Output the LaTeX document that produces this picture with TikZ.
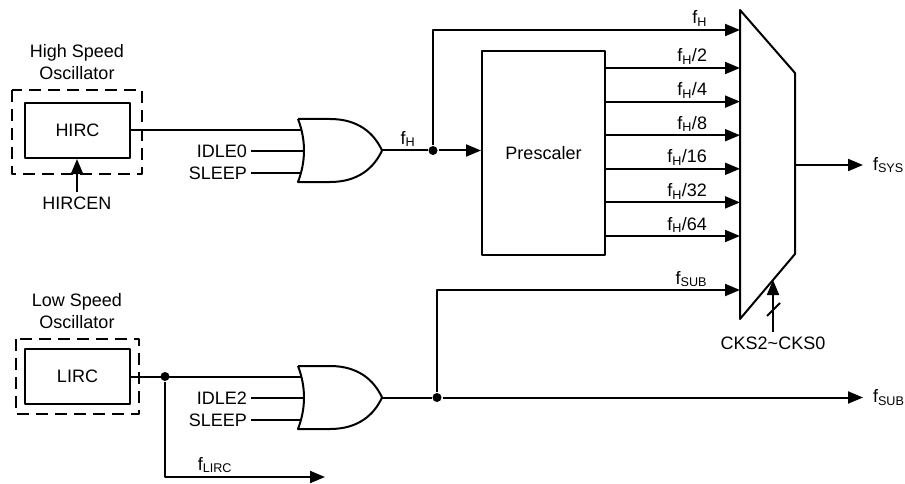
\documentclass[tikz,border=0pt]{standalone}
\usepackage{fontspec}
\setmainfont{Liberation Sans}
\usetikzlibrary{calc,arrows.meta}
\def\orgate(#1)(#2){\begin{scope}[shift={(#2)}]
	\draw (0,0) -- (32,0) .. controls (60,0) and (76,14) .. (84,31.5) .. controls (76,49) and (60,63) .. (32,63) -- (0,63) .. controls (8,42) and (8,21) .. (0,0);
	\coordinate (#1-in1) at (3.7,12);
	\coordinate (#1-in2) at (6,32);
	\coordinate (#1-in3) at (2.9,54);
	\coordinate (#1-out) at (84,31.5);
	\end{scope}}
\def\fq#1{f\textsubscript{#1}}

\begin{document}
\begin{tikzpicture}[x=1pt,y=-1pt,line width=2pt,line join=round,
		font=\fontsize{18}{22}\selectfont,
		sig/.style={-{Triangle[length=15pt,width=12pt]}},
		blk/.style={draw,minimum width=105pt,minimum height=55pt,inner sep=0pt},
		osc/.style={dash pattern=on 12pt off 7pt},
		txt/.style={inner sep=3pt},
		lbl/.style={inner sep=0pt},
		dot/.style={circle,fill,inner sep=0pt,minimum size=9pt}]
			%%%%% START %%%%%
			\useasboundingbox (0,0) rectangle (905,484);
			
			% high speed path
			\node[align=center] (hlab) at (77,62) {High Speed\\Oscillator};
			\draw[osc] (12,90) rectangle (142,174);
			\node[blk] (hirc) at (77.5,130.5) {HIRC};
			\node (hircen) at (77,203) {HIRCEN};
			\draw[sig] (hircen) -- (hircen |- hirc.south);
			
			\orgate(g1)(298,119)
			\draw (hirc.east) -- (hirc.east -| g1-in1);
			\node[txt,anchor=east] (idle0) at (251,151) {IDLE0};
			\node[txt,anchor=east] (sleep0) at (251,173) {SLEEP};
			\draw (idle0.east) -- (idle0.east -| g1-in2);
			\draw (sleep0.east) -- (sleep0.east -| g1-in3);
			\node[dot] (j1) at (433,150.5) {};
			\draw (g1-out) -- (j1);
			\node[lbl] at (408,139) {\fq{H}};
			
			\node[draw,minimum width=123pt,minimum height=204pt] (presc) at (543.5,153) {Prescaler};
			\draw[sig] (j1) -- (j1 -| presc.west);
			
			% clock select
			\draw (740,10) -- (795,73) -- (795,254) -- (740,319) -- cycle;
			\coordinate (mux-0) at (740,30);
			\coordinate (mux-7) at (740,290);
			\coordinate (mux-out) at (795,165);
			\coordinate (mux-sel) at (773,280);
			\draw[sig] (j1) |- (mux-0);
			\node[lbl,anchor=base east] at ($(mux-0)+(-32,-6)$) {\fq{H}};
			\foreach \d [count=\i] in {2,4,8,16,32,64}{
				\coordinate (mux-\i) at (740,{68+33.6*(\i-1)});
				\draw[sig] (presc.east |- mux-\i) -- (mux-\i);
				\node[lbl,anchor=base east] at ($(mux-\i)+(-32,-6)$) {\fq{H}/\d};
			}
			\node[lbl,anchor=west] (fsys) at (872,165) {\fq{SYS}};
			\draw[sig,shorten >=9pt] (mux-out) -- (fsys.west);
			\node (cks) at (773,343) {CKS2\textasciitilde CKS0};
			\draw[sig] (cks) -- (mux-sel);
			\draw (767,316) -- (780,303);
			
			% low speed path
			\node[align=center] (llab) at (77,311) {Low Speed\\Oscillator};
			\draw[osc] (16,339) rectangle (139,414);
			\node[blk] (lirc) at (77.5,376.5) {LIRC};
			
			\orgate(g2)(298,366)
			\node[dot] (j2) at (165,376.5) {};
			\draw (lirc.east) -- (lirc.east -| g2-in1);
			\node[txt,anchor=east] (idle2) at (251,398) {IDLE2};
			\node[txt,anchor=east] (sleep2) at (251,420) {SLEEP};
			\draw (idle2.east) -- (idle2.east -| g2-in2);
			\draw (sleep2.east) -- (sleep2.east -| g2-in3);
			\node[dot] (j3) at (437,397.5) {};
			\draw (g2-out) -- (j3);
			\draw[sig] (j3) |- (mux-7);
			\node[lbl,anchor=base east] at ($(mux-7)+(-32,-6)$) {\fq{SUB}};
			\node[lbl,anchor=west] (fsub) at (872,397.5) {\fq{SUB}};
			\draw[sig,shorten >=9pt] (j3) -- (fsub.west);
			\coordinate (flirc) at (325,477);
			\draw[sig] (j2) |- (flirc);
			\node[lbl,anchor=base east] at (233,470) {\fq{LIRC}};
			%%%%% END %%%%%
\end{tikzpicture}
\end{document}
